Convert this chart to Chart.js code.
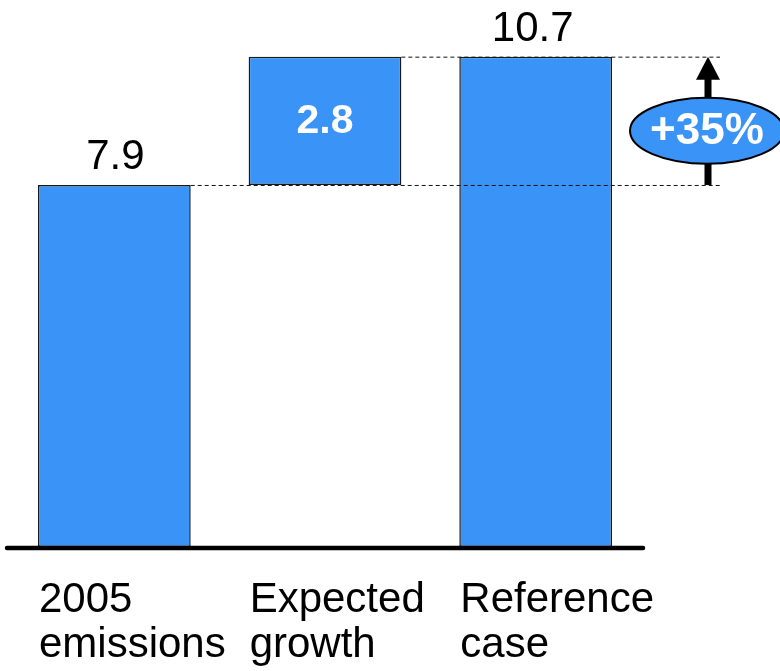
<!DOCTYPE html>
<html>
<head>
<meta charset="utf-8">
<script src="https://cdn.jsdelivr.net/npm/chart.js@4/dist/chart.umd.min.js"></script>
<style>
  html, body { margin: 0; padding: 0; background: #ffffff; }
  canvas { display: block; }
</style>
</head>
<body>
<canvas id="c" width="780" height="671"></canvas>
<script>
// ---- data ----
const categories = [['2005', 'emissions'], ['Expected', 'growth'], ['Reference', 'case']];
const barStart = [0, 7.9, 0];
const barEnd = [7.9, 10.7, 10.7];
const valueLabels = ['7.9', '2.8', '10.7'];
const changeLabel = '+35%';

const BAR_COLOR = '#3A94F7';
const FONT = '"Liberation Sans", Arial, Helvetica, sans-serif';

const overlay = {
  id: 'overlay',
  afterDatasetsDraw(chart) {
    const ctx = chart.ctx;
    const area = chart.chartArea;
    const y = chart.scales.y;
    const bars = chart.getDatasetMeta(0).data;
    const yLow = y.getPixelForValue(barEnd[0]);
    const yHigh = y.getPixelForValue(barEnd[2]);
    const xEnd = area.right + 79;

    ctx.save();
    // dashed guide lines
    ctx.strokeStyle = '#111111';
    ctx.lineWidth = 1;
    ctx.setLineDash([4, 3]);
    ctx.beginPath();
    ctx.moveTo(bars[0].x + bars[0].width / 2, yLow + 0.5);
    ctx.lineTo(xEnd, yLow + 0.5);
    ctx.moveTo(bars[1].x + bars[1].width / 2, yHigh + 0.5);
    ctx.lineTo(xEnd, yHigh + 0.5);
    ctx.stroke();
    ctx.setLineDash([]);

    // axis line
    ctx.strokeStyle = '#000000';
    ctx.lineWidth = 4.5;
    ctx.lineCap = 'round';
    ctx.beginPath();
    ctx.moveTo(area.left - 2, area.bottom + 1);
    ctx.lineTo(area.right + 2, area.bottom + 1);
    ctx.stroke();
    ctx.lineCap = 'butt';

    // arrow
    const ax = area.right + 67;
    ctx.fillStyle = '#000000';
    ctx.fillRect(ax - 3.5, yHigh + 20, 7, yLow - yHigh - 20);
    ctx.beginPath();
    ctx.moveTo(ax, yHigh);
    ctx.lineTo(ax - 12, yHigh + 23);
    ctx.lineTo(ax + 12, yHigh + 23);
    ctx.closePath();
    ctx.fill();

    // ellipse with change label
    const ey = (yLow + yHigh) / 2 + 10;
    ctx.beginPath();
    ctx.ellipse(ax - 1, ey, 77, 33, 0, 0, Math.PI * 2);
    ctx.fillStyle = BAR_COLOR;
    ctx.fill();
    ctx.lineWidth = 2;
    ctx.strokeStyle = '#000000';
    ctx.stroke();
    ctx.fillStyle = '#ffffff';
    ctx.font = 'bold 44px ' + FONT;
    ctx.textAlign = 'center';
    ctx.textBaseline = 'middle';
    ctx.fillText(changeLabel, ax - 1, ey + 1);

    // value labels
    ctx.font = '42px ' + FONT;
    ctx.fillStyle = '#000000';
    ctx.textBaseline = 'alphabetic';
    ctx.fillText(valueLabels[0], bars[0].x + 1, y.getPixelForValue(barEnd[0]) - 16);
    ctx.fillText(valueLabels[2], bars[2].x - 3, y.getPixelForValue(barEnd[2]) - 16);
    ctx.font = 'bold 41px ' + FONT;
    ctx.fillStyle = '#ffffff';
    ctx.textBaseline = 'middle';
    ctx.fillText(valueLabels[1], bars[1].x, (y.getPixelForValue(barStart[1]) + y.getPixelForValue(barEnd[1])) / 2 + 1);

    // category labels
    ctx.font = '42px ' + FONT;
    ctx.fillStyle = '#000000';
    ctx.textAlign = 'left';
    ctx.textBaseline = 'alphabetic';
    categories.forEach((lines, i) => {
      const left = bars[i].x - bars[i].width / 2 + 1;
      lines.forEach((t, j) => {
        ctx.fillText(t, left, area.bottom + 65 + j * 45);
      });
    });
    ctx.restore();
  }
};

new Chart(document.getElementById('c'), {
  type: 'bar',
  data: {
    labels: categories,
    datasets: [{
      data: barStart.map((s, i) => [s, barEnd[i]]),
      backgroundColor: BAR_COLOR,
      borderColor: '#1a1a1a',
      borderWidth: 1.5,
      borderSkipped: false,
      categoryPercentage: 1,
      barPercentage: 0.725
    }]
  },
  options: {
    responsive: false,
    animation: false,
    devicePixelRatio: 1,
    layout: { padding: { left: 9, right: 139, top: 20, bottom: 124 } },
    plugins: { legend: { display: false }, tooltip: { enabled: false } },
    scales: {
      x: { display: false },
      y: { display: false, min: 0, max: 11.5 }
    }
  },
  plugins: [overlay]
});
</script>
</body>
</html>
